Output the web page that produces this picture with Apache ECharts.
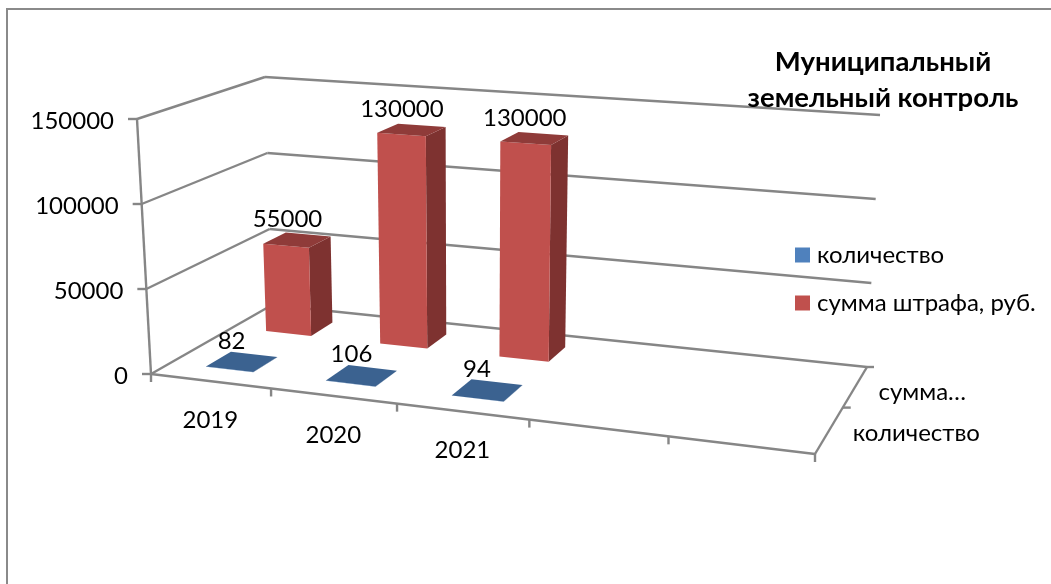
<!DOCTYPE html>
<html><head><meta charset="utf-8">
<style>html,body{margin:0;padding:0;background:#fff}#c{width:1051px;height:584px}</style>
<script src="https://cdn.jsdelivr.net/npm/echarts@6/dist/echarts.min.js"></script>
</head><body><div id="c"></div>
<script>
const categories = ['2019', '2020', '2021', '', ''];
const depthLabels = ['количество', 'сумма…'];
const seriesNames = ['количество', 'сумма штрафа, руб.'];
const countValues = [82, 106, 94];
const fineValues = [55000, 130000, 130000];
const valueTicks = [0, 50000, 100000, 150000];
const valueMax = 150000;

// Projection of the 3D box: corners of the floor and ceiling planes
const FONT = 'Lato, "Noto Sans", sans-serif';
const FS = 24;
const floorQuad = [[151,374],[815,454],[867,367],[272,305]];
const ceilQuad  = [[137,119],[827,168],[880,115],[265,77]];
function homography(q){
  const [[x0,y0],[x1,y1],[x2,y2],[x3,y3]] = q;
  const dx1=x1-x2, dx2=x3-x2, sx=x0-x1+x2-x3, dy1=y1-y2, dy2=y3-y2, sy=y0-y1+y2-y3;
  const det=dx1*dy2-dx2*dy1;
  const g=(sx*dy2-dx2*sy)/det, h=(dx1*sy-sx*dy1)/det;
  const a=x1-x0+g*x1, b=x3-x0+h*x3, d=y1-y0+g*y1, e=y3-y0+h*y3;
  return (u,v)=>{const w=g*u+h*v+1;return [(a*u+b*v+x0)/w,(d*u+e*v+y0)/w];};
}
const floorH = homography(floorQuad), ceilH = homography(ceilQuad);
const nCat = categories.length, nDepth = depthLabels.length;
// c: category position, s: depth position, val: axis value
function P(c,s,val){
  const f=floorH(c/nCat,s/nDepth), t=ceilH(c/nCat,s/nDepth), k=val/valueMax;
  return [f[0]+(t[0]-f[0])*k, f[1]+(t[1]-f[1])*k];
}
const GRID='#868686';
function seg(a,b,w){return {type:'line',shape:{x1:a[0],y1:a[1],x2:b[0],y2:b[1]},style:{stroke:GRID,lineWidth:w||2.4}};}
function txt(x,y,t,align){return {type:'text',x:x,y:y,style:{text:t,fill:'#000',font:FS+'px '+FONT,align:align||'center',verticalAlign:'middle'}};}
function poly(pts,fill){return {type:'polygon',shape:{points:pts},style:{fill:fill}};}

function barItem(params,api,colors,depth,labelDx,labelDy){
  const c=api.value(0), val=api.value(1);
  const u0=c+.3,u1=c+.7,d0=depth+.3,d1=depth+.7;
  const fl=P(u0,d0,0),fr=P(u1,d0,0),bl=P(u0,d1,0),br=P(u1,d1,0);
  const tfl=P(u0,d0,val),tfr=P(u1,d0,val),tbl=P(u0,d1,val),tbr=P(u1,d1,val);
  const cx=(tfl[0]+tbr[0])/2, cy=(tfl[1]+tbr[1])/2;
  return {type:'group',children:[
    poly([fr,br,tbr,tfr],colors[1]),
    poly([fl,fr,tfr,tfl],colors[0]),
    poly([tfl,tfr,tbr,tbl],colors[2]),
    txt(cx+labelDx,cy+labelDy,String(val))
  ]};
}

const frameItem=(params,api)=>({type:'group',children:[
  {type:'polyline',shape:{points:[[7,584],[7,9],[1051,9]]},style:{stroke:'#8a8a8a',fill:'none',lineWidth:2}}
]});

const option={
  animation:false,
  backgroundColor:'#fff',
  title:{text:'Муниципальный\nземельный контроль',left:878,top:39,textAlign:'center',z:20,
    textStyle:{fontFamily:FONT,fontSize:27.5,fontWeight:'bold',color:'#000',lineHeight:36}},
  legend:{orient:'vertical',left:790,top:238,itemWidth:15,itemHeight:15,itemGap:24,
    textStyle:{fontFamily:FONT,fontSize:FS,color:'#000',padding:[0,0,0,2]},
    data:[{name:seriesNames[0],icon:'rect'},{name:seriesNames[1],icon:'rect'}]},
  series:[
    {type:'custom',coordinateSystem:'none',silent:true,data:[0],z:1,renderItem:frameItem},
    // value axis: walls and gridlines
    {type:'custom',coordinateSystem:'none',silent:true,data:valueTicks,z:2,encode:{},renderItem:(p,api)=>{
      const v=api.value(0);
      const fl=P(0,0,v),bl=P(0,nDepth,v),br=P(nCat,nDepth,v);
      return {type:'group',children:[
        seg([fl[0]-9,fl[1]],fl),seg(fl,bl),seg(bl,br),
        txt(fl[0]-23,fl[1]+2,String(v),'right')
      ]};
    }},
    // axes frame lines
    {type:'custom',coordinateSystem:'none',silent:true,data:[0],z:2,renderItem:()=>{
      return {type:'group',children:[
        seg(P(0,0,0),P(0,0,valueMax)),
        seg(P(0,0,0),P(nCat,0,0)),
        seg(P(nCat,0,0),P(nCat,nDepth,0)),
        seg(P(nCat,nDepth,0),[P(nCat,nDepth,0)[0]+7,P(nCat,nDepth,0)[1]])
      ]};
    }},
    // category ticks and labels
    {type:'custom',coordinateSystem:'none',silent:true,data:categories.concat(['']).map((_,i)=>i),z:2,renderItem:(p,api)=>{
      const i=api.value(0),a=P(i,0,0);
      const ch=[seg(a,[a[0],a[1]+8])];
      if(categories[i]){const m=P(i+.5,0,0);ch.push(txt(m[0],m[1]+39,categories[i]));}
      return {type:'group',children:ch};
    }},
    // depth ticks and labels
    {type:'custom',coordinateSystem:'none',silent:true,data:depthLabels.map((_,i)=>i),z:2,renderItem:(p,api)=>{
      const i=api.value(0),a=P(nCat,i+1,0),m=P(nCat,i+.5,0);
      return {type:'group',children:[
        i<nDepth-1?seg(a,[a[0]+8,a[1]]):{type:'group',children:[]},
        txt(m[0]+87-20*i,m[1]+3+3*i,depthLabels[i])
      ]};
    }},
    {name:seriesNames[1],type:'custom',coordinateSystem:'none',silent:true,z:5,
      itemStyle:{color:'#C0504D'},
      data:fineValues.map((v,i)=>[i,v]),encode:{x:0,y:1},
      renderItem:(p,api)=>barItem(p,api,['#C0504D','#7E3230','#8F3B39'],1,-9.5,-20.5)},
    {name:seriesNames[0],type:'custom',coordinateSystem:'none',silent:true,z:6,
      itemStyle:{color:'#4F81BD'},
      data:countValues.map((v,i)=>[i,v]),encode:{x:0,y:1},
      renderItem:(p,api)=>barItem(p,api,['#4F81BD','#345A85','#3B6290'],0,-10,-21)}
  ]
};
echarts.init(document.getElementById('c'),null,{renderer:'canvas'}).setOption(option);
</script></body></html>
